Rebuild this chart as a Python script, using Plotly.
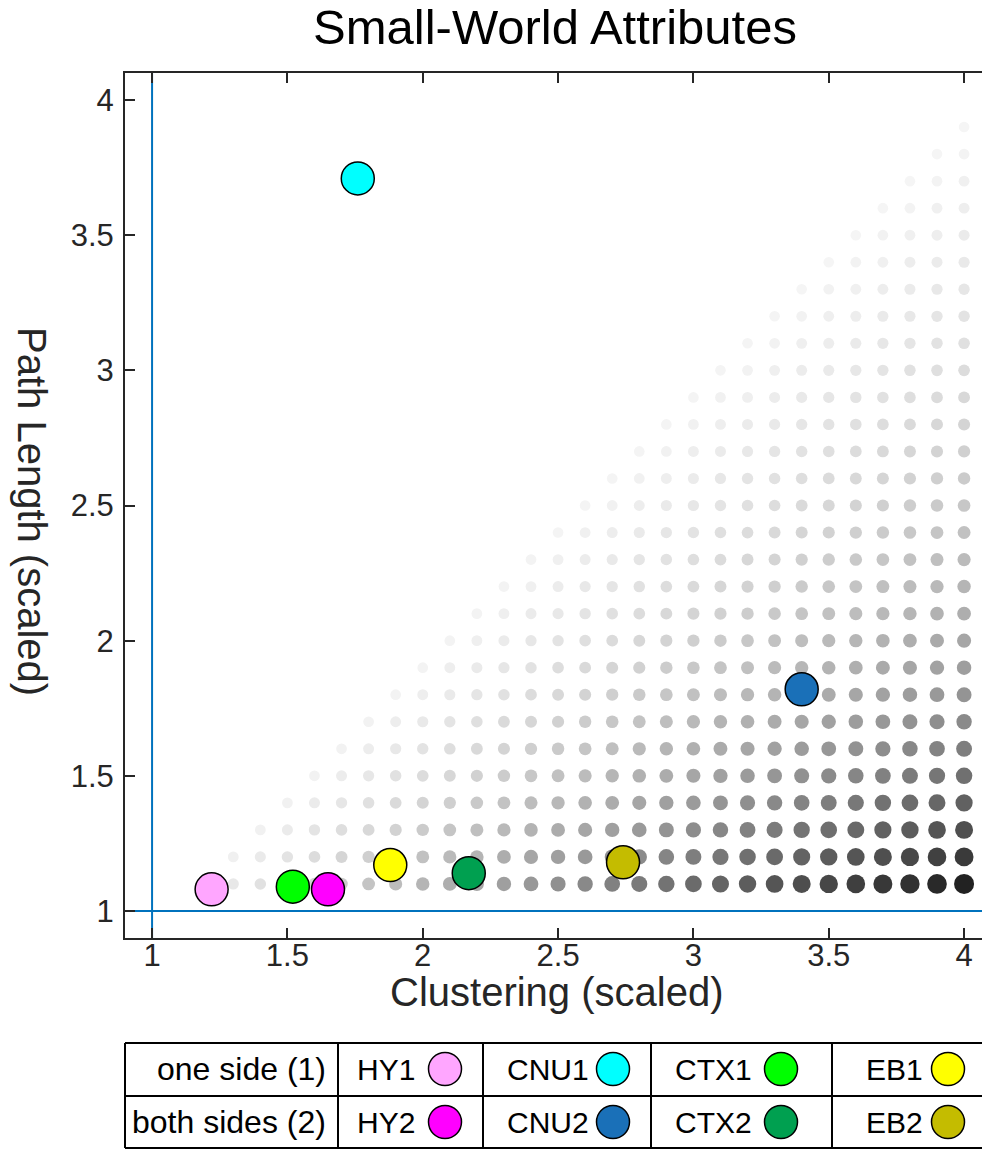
import plotly.graph_objects as go

# ---------------- data ----------------
grid_x = [1.1, 1.2, 1.3, 1.4, 1.5, 1.6, 1.7, 1.8, 1.9, 2.0,
          2.1, 2.2, 2.3, 2.4, 2.5, 2.6, 2.7, 2.8, 2.9, 3.0,
          3.1, 3.2, 3.3, 3.4, 3.5, 3.6, 3.7, 3.8, 3.9, 4.0]
grid_y = [1.1, 1.2, 1.3, 1.4, 1.5, 1.6, 1.7, 1.8, 1.9, 2.0,
          2.1, 2.2, 2.3, 2.4, 2.5, 2.6, 2.7, 2.8, 2.9, 3.0,
          3.1, 3.2, 3.3, 3.4, 3.5, 3.6, 3.7, 3.8, 3.9, 4.0]

regions = ["HY1", "CNU1", "CTX1", "EB1", "HY2", "CNU2", "CTX2", "EB2"]
clustering = [1.22, 1.76, 1.52, 1.88, 1.65, 3.40, 2.17, 2.74]
path_length = [1.08, 3.71, 1.09, 1.17, 1.08, 1.82, 1.14, 1.18]
region_colors = ["#FFA6FF", "#00FFFF", "#00FF00", "#FFFF00",
                 "#FF00FF", "#1A70B8", "#00A050", "#C4BC00"]
row_labels = ["one side (1)", "both sides (2)"]

x_ticks = [1, 1.5, 2, 2.5, 3, 3.5, 4]
x_ticktext = ["1", "1.5", "2", "2.5", "3", "3.5", "4"]
y_ticks = [1, 1.5, 2, 2.5, 3, 3.5, 4]
y_ticktext = ["1", "1.5", "2", "2.5", "3", "3.5", "4"]

# ---------------- geometry (page pixels; body margin removed via post_script) ----------------
W, H = 982, 1152
T = 73                                     # top of the plotting area
PH = H - T
plot_left = 125
plot_bottom = 938
px_per_x = 270.67

FONT = "Liberation Sans, Arial, sans-serif"
AX = "#262626"

# ---------------- background grid of small-world index ----------------
gx, gy, gsize, gcol = [], [], [], []
max_ratio = max(grid_x) / min(grid_y)
for yv in grid_y:
    for xv in grid_x:
        if xv > yv + 1e-9:
            t = (xv / yv - 1.0) / (max_ratio - 1.0)
            g = int(round(247 - 213 * t))
            gx.append(xv)
            gy.append(yv)
            gsize.append(10.5 + 9.5 * t)
            gcol.append(f"rgb({g},{g},{g})")

fig = go.Figure()

fig.add_trace(go.Scatter(
    x=gx, y=gy, mode="markers",
    marker=dict(size=gsize, color=gcol, opacity=1, line=dict(width=0)),
    hoverinfo="skip", showlegend=False, xaxis="x", yaxis="y"))

fig.add_trace(go.Scatter(
    x=clustering, y=path_length, mode="markers", text=regions,
    marker=dict(size=33, color=region_colors, opacity=1,
                line=dict(color="black", width=1.5)),
    showlegend=False, xaxis="x", yaxis="y"))

# reference lines at 1
fig.add_shape(type="line", xref="x", yref="y domain", x0=1, x1=1, y0=0, y1=1,
              line=dict(color="#0072BD", width=2), layer="below")
fig.add_shape(type="line", xref="x domain", yref="y", x0=0, x1=1, y0=1, y1=1,
              line=dict(color="#0072BD", width=2), layer="below")

# ---------------- axis titles placed in page-pixel overlay axes (x2/y2) ----------------
fig.add_annotation(x=556, y=992, xref="x2", yref="y2", text="Clustering (scaled)",
                   showarrow=False, xanchor="center", yanchor="middle", borderpad=0,
                   font=dict(family=FONT, size=40, color=AX))
fig.add_annotation(x=32, y=511, xref="x2", yref="y2", text="Path Length (scaled)",
                   showarrow=False, xanchor="center", yanchor="middle", textangle=90,
                   font=dict(family=FONT, size=40, color=AX))

# ---------------- legend table ----------------
col_edges = [125, 338, 483, 651, 832]
row_lines = [1043, 1096, 1148]
row_centers = [1069, 1122]
text_right = [417, 591, 754, 925]
circle_x = [445, 613, 781, 948]

for yl in row_lines:
    fig.add_shape(type="line", xref="x2", yref="y2", x0=125, x1=W + 20, y0=yl, y1=yl,
                  line=dict(color="black", width=2))
for xl in col_edges:
    fig.add_shape(type="line", xref="x2", yref="y2", x0=xl, x1=xl,
                  y0=row_lines[0], y1=row_lines[-1],
                  line=dict(color="black", width=2))

lx, ly, lc = [], [], []
for r in range(2):
    fig.add_annotation(x=328, y=row_centers[r], xref="x2", yref="y2",
                       text=row_labels[r], showarrow=False, xanchor="right",
                       yanchor="middle", font=dict(family=FONT, size=32, color="black"))
    for c in range(4):
        idx = r * 4 + c
        fig.add_annotation(x=text_right[c], y=row_centers[r], xref="x2", yref="y2",
                           text=regions[idx], showarrow=False, xanchor="right",
                           yanchor="middle", font=dict(family=FONT, size=30, color="black"))
        lx.append(circle_x[c])
        ly.append(row_centers[r])
        lc.append(region_colors[idx])

fig.add_trace(go.Scatter(
    x=lx, y=ly, mode="markers", cliponaxis=False,
    marker=dict(size=33, color=lc, opacity=1, line=dict(color="black", width=1.5)),
    hoverinfo="skip", showlegend=False, xaxis="x2", yaxis="y2"))

# ---------------- layout ----------------
fig.update_layout(
    width=W, height=H,
    margin=dict(l=0, r=0, t=T, b=0, pad=0),
    paper_bgcolor="white", plot_bgcolor="rgba(0,0,0,0)",
    font=dict(family=FONT, color=AX),
    title=dict(text="Small-World Attributes", x=555 / W, xanchor="center",
               y=1 - 27 / H, yanchor="middle", yref="container",
               font=dict(family=FONT, size=49, color="black")),
    xaxis=dict(domain=[plot_left / W, 1],
               range=[0.9, 0.9 + (W - plot_left) / px_per_x],
               tickvals=x_ticks, ticktext=x_ticktext, ticks="inside", ticklen=10,
               tickwidth=2, tickcolor=AX, showline=True, linecolor=AX, linewidth=2,
               mirror="ticks", showgrid=False, zeroline=False,
               tickfont=dict(family=FONT, size=31, color=AX),
               ticklabelstandoff=-11, anchor="y"),
    yaxis=dict(domain=[(H - plot_bottom) / PH, 1], range=[0.9, 4.1],
               tickvals=y_ticks, ticktext=y_ticktext, ticks="inside", ticklen=10,
               tickwidth=2, tickcolor=AX, showline=True, linecolor=AX, linewidth=2,
               mirror=False, showgrid=False, zeroline=False,
               tickfont=dict(family=FONT, size=31, color=AX),
               ticklabelstandoff=3, anchor="x"),
    xaxis2=dict(domain=[0, 1], range=[0, W], visible=False, anchor="y2"),
    yaxis2=dict(domain=[0, 1], range=[H, T], visible=False, anchor="x2"),
)

fig.write_html("out.html",
               config={"displayModeBar": False},
               post_script="document.body.style.margin='0px';"
                           "document.body.style.overflow='hidden';")
